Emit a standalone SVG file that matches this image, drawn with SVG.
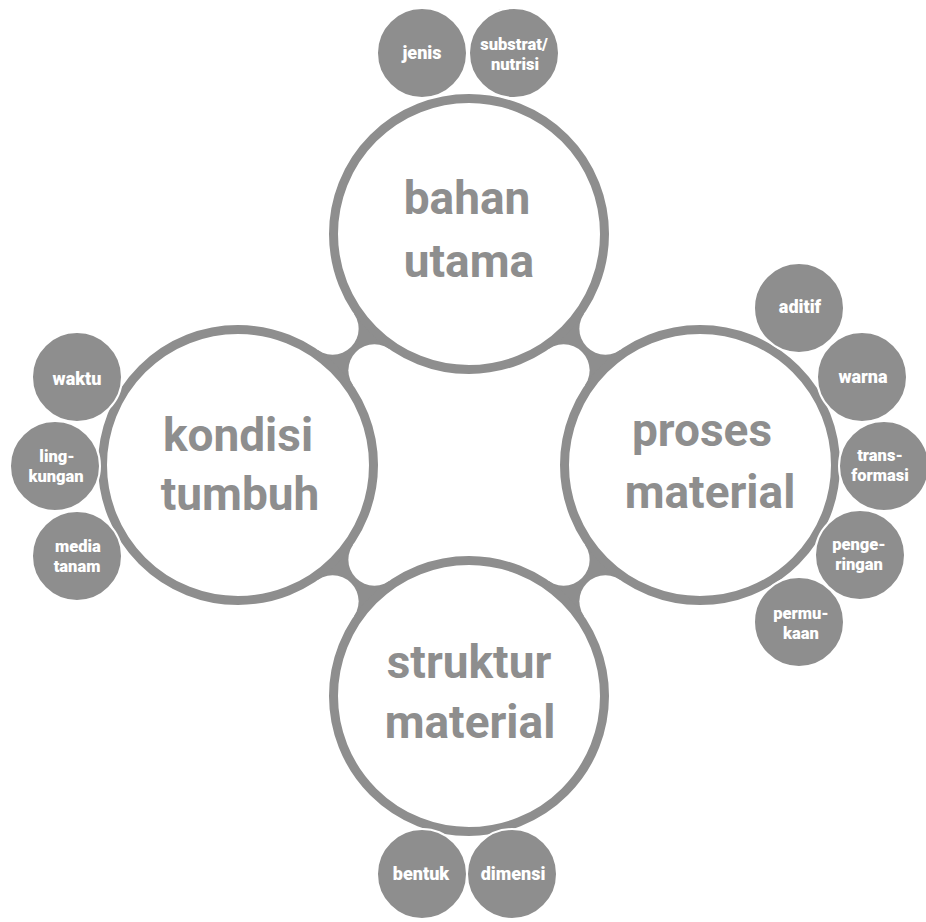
<svg xmlns="http://www.w3.org/2000/svg" width="926" height="922" viewBox="0 0 926 922">
<style>
.bridge{fill:#8e8e8e}
.fillet{fill:#ffffff}
.main{fill:#ffffff;stroke:#8e8e8e;stroke-width:9}
.sat{fill:#8e8e8e;stroke:#ffffff;stroke-width:2}
.big{font-family:Roboto,"Liberation Sans",sans-serif;font-weight:bold;font-size:46px;fill:#8e8e8e;text-anchor:middle}
.sm{font-family:Roboto,"Liberation Sans",sans-serif;font-weight:900;font-size:18px;fill:#ffffff;text-anchor:middle}
.sm2{font-family:Roboto,"Liberation Sans",sans-serif;font-weight:900;font-size:16.5px;fill:#ffffff;text-anchor:middle}
</style>
<rect width="926" height="922" fill="#ffffff"/>
<g id="connectors">
<polygon class="bridge" points="469,234 332.64,328.64 238,465 374.36,370.36"/>
<polygon class="bridge" points="469,234 605.36,328.64 700,465 563.64,370.36"/>
<polygon class="bridge" points="238,465 332.64,601.36 469,696 374.36,559.64"/>
<polygon class="bridge" points="700,465 605.36,601.36 469,696 563.64,559.64"/>
<circle class="fillet" cx="332.64" cy="328.64" r="26"/>
<circle class="fillet" cx="374.36" cy="370.36" r="26"/>
<circle class="fillet" cx="605.36" cy="328.64" r="26"/>
<circle class="fillet" cx="563.64" cy="370.36" r="26"/>
<circle class="fillet" cx="332.64" cy="601.36" r="26"/>
<circle class="fillet" cx="374.36" cy="559.64" r="26"/>
<circle class="fillet" cx="605.36" cy="601.36" r="26"/>
<circle class="fillet" cx="563.64" cy="559.64" r="26"/>
</g>
<g id="bahan-utama">
<circle class="main" cx="469" cy="234" r="135.5"/>
<text class="big" x="467" y="214">bahan</text>
<text class="big" x="469" y="277">utama</text>
</g>
<g id="kondisi-tumbuh">
<circle class="main" cx="238" cy="465" r="135.5"/>
<text class="big" x="238" y="451">kondisi</text>
<text class="big" x="240" y="510">tumbuh</text>
</g>
<g id="proses-material">
<circle class="main" cx="700" cy="465" r="135.5"/>
<text class="big" x="702" y="446">proses</text>
<text class="big" x="710" y="508">material</text>
</g>
<g id="struktur-material">
<circle class="main" cx="469" cy="696" r="135.5"/>
<text class="big" x="469" y="678">struktur</text>
<text class="big" x="470" y="738">material</text>
</g>
<g id="jenis">
<circle class="sat" cx="422" cy="53" r="45"/>
<text class="sm" x="422" y="59">jenis</text>
</g>
<g id="substrat-nutrisi">
<circle class="sat" cx="514" cy="53" r="45"/>
<text class="sm2"><tspan x="514" y="50">substrat/</tspan><tspan x="515" y="69.5">nutrisi</tspan></text>
</g>
<g id="aditif">
<circle class="sat" cx="799" cy="308" r="45"/>
<text class="sm" x="800" y="313">aditif</text>
</g>
<g id="warna">
<circle class="sat" cx="862" cy="377" r="45"/>
<text class="sm" x="863" y="383">warna</text>
</g>
<g id="transformasi">
<circle class="sat" cx="884" cy="466" r="45"/>
<text class="sm2"><tspan x="880" y="461">trans-</tspan><tspan x="880" y="480.5">formasi</tspan></text>
</g>
<g id="pengeringan">
<circle class="sat" cx="860" cy="555" r="45"/>
<text class="sm2"><tspan x="859" y="550">penge-</tspan><tspan x="859" y="569.5">ringan</tspan></text>
</g>
<g id="permukaan">
<circle class="sat" cx="799" cy="622" r="45"/>
<text class="sm2"><tspan x="801" y="619">permu-</tspan><tspan x="801" y="638.5">kaan</tspan></text>
</g>
<g id="waktu">
<circle class="sat" cx="77" cy="377" r="45"/>
<text class="sm" x="77" y="385">waktu</text>
</g>
<g id="lingkungan">
<circle class="sat" cx="55" cy="466" r="45"/>
<text class="sm2"><tspan x="57" y="462">ling-</tspan><tspan x="56" y="481.5">kungan</tspan></text>
</g>
<g id="media-tanam">
<circle class="sat" cx="77" cy="556" r="45"/>
<text class="sm2"><tspan x="78" y="552">media</tspan><tspan x="77" y="571.5">tanam</tspan></text>
</g>
<g id="bentuk">
<circle class="sat" cx="422" cy="874" r="45"/>
<text class="sm" x="421" y="880">bentuk</text>
</g>
<g id="dimensi">
<circle class="sat" cx="512" cy="874" r="45"/>
<text class="sm" x="513" y="880">dimensi</text>
</g>
</svg>
